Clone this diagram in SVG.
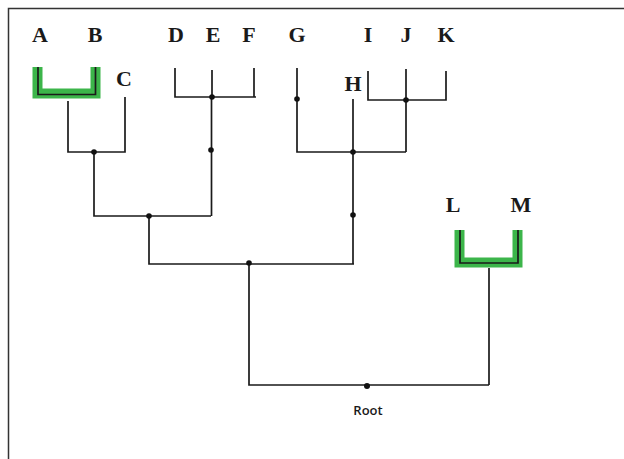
<svg xmlns="http://www.w3.org/2000/svg" width="624" height="459" viewBox="0 0 624 459">
<style>
.lbl{font-family:"Liberation Serif","Times New Roman",serif;font-weight:bold;font-size:22px;fill:#1a1a1a;text-anchor:middle}
.root{font-family:"Open Sans","Liberation Sans",sans-serif;font-weight:600;font-size:13px;fill:#1a1a1a;text-anchor:middle}
.ln{fill:none;stroke:#1a1a1a;stroke-width:1.7}
.hl{fill:none;stroke:#3cb54a;stroke-width:10}
.dot{fill:#111}
</style>
<rect width="624" height="459" fill="#fff"/>
<path d="M8.5,459 V8.5 H624" fill="none" stroke="#333" stroke-width="1.5"/>
<g id="connectors">
  <path class="ln" d="M68,101 V152 H125 V97"/>
  <path class="ln" d="M94,152 V216 H211"/>
  <path class="ln" d="M175,68 V97 H256 M212,70 V97 M254,68 V97"/>
  <path class="ln" d="M211.5,97 V216"/>
  <path class="ln" d="M149,216 V264 H354"/>
  <path class="ln" d="M297,68 V152 H406"/>
  <path class="ln" d="M368,71 V100 H446 V71 M406,69 V152"/>
  <path class="ln" d="M353,99 V264"/>
  <path class="ln" d="M249,264 V385 H489"/>
  <path class="ln" d="M489,268 V385"/>
  <circle class="dot" cx="94" cy="152" r="2.8"/>
  <circle class="dot" cx="212" cy="97" r="2.8"/>
  <circle class="dot" cx="211" cy="150" r="2.8"/>
  <circle class="dot" cx="149" cy="216" r="2.8"/>
  <circle class="dot" cx="297" cy="99" r="2.8"/>
  <circle class="dot" cx="406" cy="100" r="2.8"/>
  <circle class="dot" cx="353" cy="152" r="2.8"/>
  <circle class="dot" cx="353" cy="215" r="2.8"/>
  <circle class="dot" cx="249" cy="263" r="2.8"/>
  <circle class="dot" cx="367" cy="386" r="3"/>
</g>
<g id="highlight-AB"><path class="hl" d="M37.5,67 V93.5 H95.5 V67"/><path class="ln" d="M38,67 V94.5 H95.5 V67"/></g>
<g id="highlight-LM"><path class="hl" d="M459.5,230 V262.5 H517.5 V230"/><path class="ln" d="M460,230 V263 H518 V230"/></g>
<g id="node-A"><text class="lbl" x="40" y="42">A</text></g>
<g id="node-B"><text class="lbl" x="95" y="42">B</text></g>
<g id="node-C"><text class="lbl" x="124" y="86">C</text></g>
<g id="node-D"><text class="lbl" x="176" y="42">D</text></g>
<g id="node-E"><text class="lbl" x="213" y="42">E</text></g>
<g id="node-F"><text class="lbl" x="249" y="42">F</text></g>
<g id="node-G"><text class="lbl" x="297" y="42">G</text></g>
<g id="node-H"><text class="lbl" x="353" y="91">H</text></g>
<g id="node-I"><text class="lbl" x="368" y="42">I</text></g>
<g id="node-J"><text class="lbl" x="406" y="42">J</text></g>
<g id="node-K"><text class="lbl" x="446" y="42">K</text></g>
<g id="node-L"><text class="lbl" x="453" y="212">L</text></g>
<g id="node-M"><text class="lbl" x="521" y="212">M</text></g>
<g id="node-Root"><text class="root" x="368" y="415">Root</text></g>
</svg>
